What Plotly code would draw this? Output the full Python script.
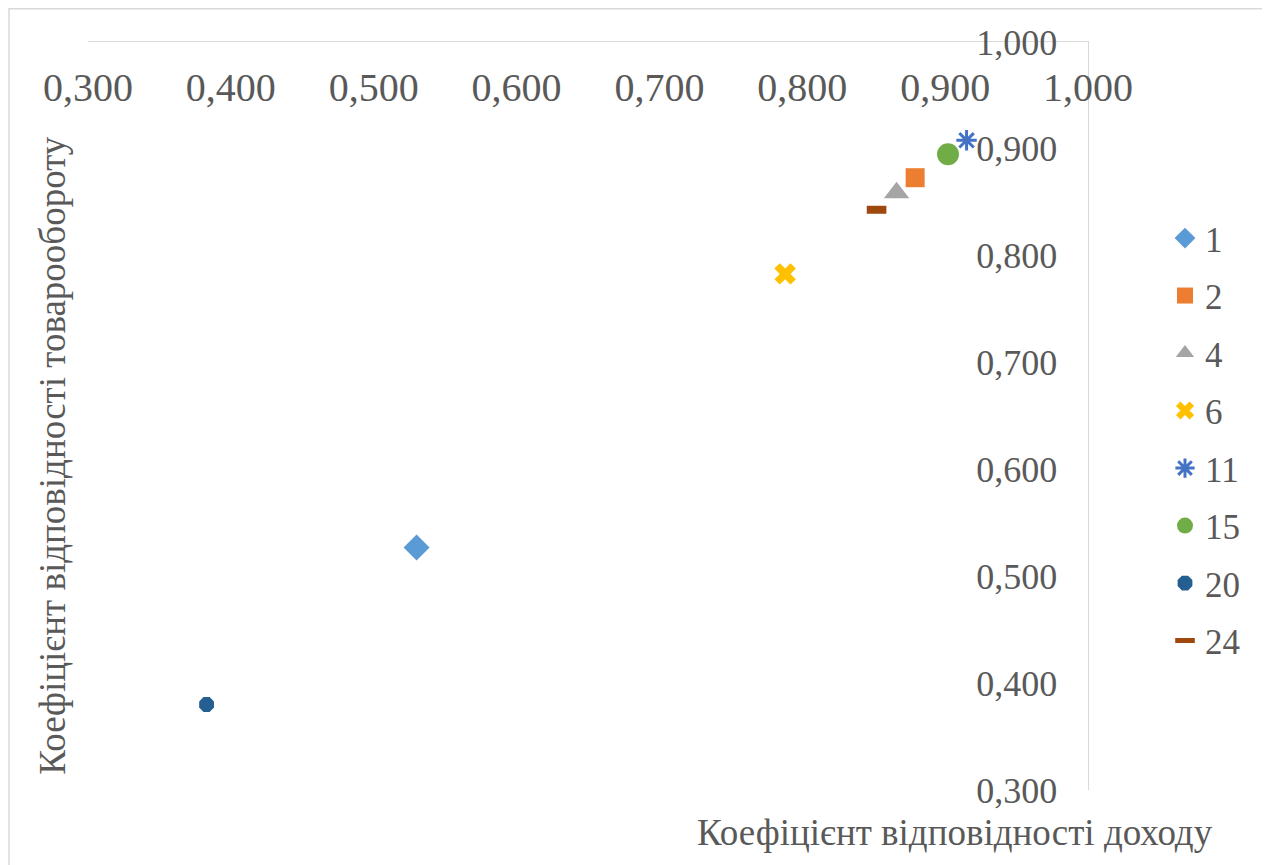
import plotly.graph_objects as go

names = ["1", "2", "4", "6", "11", "15", "20", "24"]
x_vals = [0.530, 0.879, 0.866, 0.788, 0.915, 0.902, 0.383, 0.852]
y_vals = [0.527, 0.873, 0.859, 0.783, 0.908, 0.895, 0.380, 0.843]
colors = ["#5B9BD5", "#ED7D31", "#A5A5A5", "#FFC000", "#4472C4", "#70AD47", "#255E91", "#9E480E"]
symbols = ["diamond", "square", "triangle-up", "x", "asterisk", "circle", "octagon", "line-ew"]
sizes = [20, 19, 22, 19, 17, 22, 16, 14]

x_title = "Коефіцієнт відповідності доходу"
y_title = "Коефіцієнт відповідності товарообороту"

FONT = "Liberation Serif, Times New Roman, FreeSerif, serif"
GREY = "#595959"

fig = go.Figure()
for i, n in enumerate(names):
    sym = symbols[i]
    if sym in ("asterisk", "line-ew"):
        marker = dict(symbol=sym, size=sizes[i], color=colors[i],
                      line=dict(color=colors[i], width=3 if sym == "asterisk" else 8))
    else:
        marker = dict(symbol=sym, size=sizes[i], color=colors[i], line=dict(width=0))
    fig.add_trace(go.Scatter(x=[x_vals[i]], y=[y_vals[i]], mode="markers", name=n,
                             marker=marker, legendgroup=n, cliponaxis=False))

fig.update_layout(
    width=1270, height=865,
    margin=dict(l=80, r=190, t=34, b=83),
    paper_bgcolor="white", plot_bgcolor="white",
    separators=", ",
    font=dict(family=FONT, color=GREY),
    showlegend=True,
    legend=dict(x=1.077, y=0.777, xanchor="left", yanchor="top",
                font=dict(size=35, family=FONT, color=GREY),
                tracegroupgap=9, itemwidth=30, bgcolor="rgba(0,0,0,0)"),
    xaxis=dict(range=[0.3, 1.0], dtick=0.1, tick0=0.3, tickformat=".3f",
               side="top", ticklabelposition="inside", ticklabeloverflow="allow",
               ticklabelstandoff=36,
               showgrid=False, zeroline=False, showline=True, linecolor="#D9D9D9",
               linewidth=1, ticks="", tickfont=dict(size=40, family=FONT, color=GREY)),
    yaxis=dict(range=[0.3, 1.0], dtick=0.1, tick0=0.3, tickformat=".3f",
               side="right", ticklabelposition="inside", ticklabeloverflow="allow",
               ticklabelstandoff=35,
               showgrid=False, zeroline=False, showline=True, linecolor="#D9D9D9",
               linewidth=1, ticks="", tickfont=dict(size=36, family=FONT, color=GREY)),
)

fig.add_annotation(text=x_title, xref="paper", yref="paper", x=0.867, y=-0.057,
                   xanchor="center", yanchor="middle", showarrow=False,
                   font=dict(size=37, family=FONT, color=GREY))
fig.add_annotation(text=y_title, xref="paper", yref="paper", x=-0.035, y=0.447,
                   xanchor="center", yanchor="middle", showarrow=False, textangle=-90,
                   font=dict(size=37, family=FONT, color=GREY))

# chart frame
fig.add_shape(type="rect", xref="paper", yref="paper", x0=-0.079, x1=1.176,
              y0=-0.12, y1=1.0445, line=dict(color="#D9D9D9", width=1.5), layer="below")

fig.write_html("out.html")
